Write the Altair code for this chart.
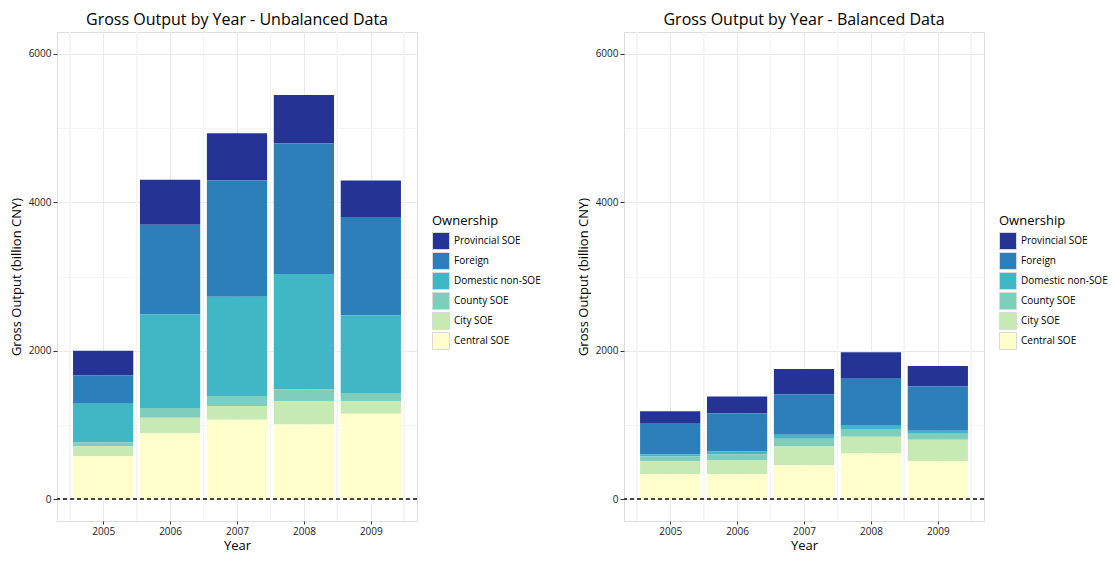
import altair as alt
import pandas as pd

years = [2005, 2006, 2007, 2008, 2009]
ownership = ["Provincial SOE", "Foreign", "Domestic non-SOE", "County SOE", "City SOE", "Central SOE"]
colors = ["#253494", "#2c7fb8", "#41b6c4", "#7fcdbb", "#c7e9b4", "#ffffcc"]

# Unbalanced data (billion CNY)
unb_provincial = [330, 609, 636, 649, 490]
unb_foreign = [372, 1206, 1563, 1763, 1325]
unb_domestic = [530, 1259, 1339, 1550, 1047]
unb_county = [53, 132, 132, 159, 106]
unb_city = [132, 212, 186, 318, 172]
unb_central = [583, 888, 1073, 1007, 1153]

# Balanced data (billion CNY)
bal_provincial = [159, 225, 344, 357, 278]
bal_foreign = [424, 516, 543, 623, 596]
bal_domestic = [27, 40, 53, 53, 40]
bal_county = [66, 80, 106, 106, 79]
bal_city = [172, 185, 252, 225, 292]
bal_central = [340, 340, 459, 618, 512]

unbalanced = [unb_provincial, unb_foreign, unb_domestic, unb_county, unb_city, unb_central]
balanced = [bal_provincial, bal_foreign, bal_domestic, bal_county, bal_city, bal_central]

FONT = "Open Sans"
X_DOMAIN = [2004.31, 2009.69]
Y_DOMAIN = [-291, 6294]


def make_df(series):
    rows = []
    n = len(ownership)
    for i, (own, vals) in enumerate(zip(ownership, series)):
        for y, v in zip(years, vals):
            rows.append({"year": y, "ownership": own, "value": v, "order": n - 1 - i})
    return pd.DataFrame(rows)


def make_xaxis():
    return alt.Axis(
        values=years,
        format="d",
        labelOverlap=False,
        labelFlush=False,
        gridColor="#e9e9e9",
        tickColor="#333333",
        domain=False,
        tickSize=3,
        labelPadding=2,
        labelFontSize=10,
        labelColor="#222222",
        titleFontSize=13,
        titleFontWeight="normal",
        titleColor="#000000",
        titlePadding=3,
        labelFont=FONT,
        titleFont=FONT,
    )


def panel(series, title):
    df = make_df(series)
    xscale = alt.Scale(domain=X_DOMAIN, nice=False, zero=False)
    yscale = alt.Scale(domain=Y_DOMAIN, nice=False, zero=False)
    yaxis = alt.Axis(
        values=[0, 1000, 2000, 3000, 4000, 5000, 6000],
        format="d",
        labelExpr="datum.value % 2000 === 0 ? datum.label : ''",
        labelOverlap=False,
        gridColor={"condition": {"test": "datum.value % 2000 === 0", "value": "#e9e9e9"}, "value": "#f4f4f4"},
        tickColor={"condition": {"test": "datum.value % 2000 === 0", "value": "#333333"}, "value": "transparent"},
        domain=False,
        tickSize=4,
        labelPadding=2,
        labelFontSize=10,
        labelColor="#222222",
        titleFontSize=13,
        titleFontWeight="normal",
        titleColor="#000000",
        titlePadding=5,
        labelFont=FONT,
        titleFont=FONT,
    )
    base = alt.Chart(df)
    minor_lo = (
        base.transform_calculate(xm="datum.year - 0.5")
        .mark_rule(color="#f4f4f4", strokeWidth=1)
        .encode(x=alt.X("xm:Q", scale=xscale, axis=make_xaxis(), title="Year"))
    )
    minor_hi = (
        base.transform_calculate(xm="datum.year + 0.5")
        .mark_rule(color="#f4f4f4", strokeWidth=1)
        .encode(x=alt.X("xm:Q", scale=xscale, axis=make_xaxis(), title="Year"))
    )
    bars = (
        base.transform_stack(
            stack="value",
            groupby=["year"],
            as_=["v0", "v1"],
            sort=[alt.SortField("order", order="ascending")],
        )
        .transform_calculate(x0="datum.year - 0.45", x1="datum.year + 0.45")
        .mark_bar(strokeWidth=0)
        .encode(
            x=alt.X("x0:Q", scale=xscale, axis=make_xaxis(), title="Year"),
            x2="x1:Q",
            y=alt.Y("v0:Q", scale=yscale, axis=yaxis, title="Gross Output (billion CNY)"),
            y2="v1:Q",
            color=alt.Color(
                "ownership:N",
                scale=alt.Scale(domain=ownership, range=colors),
                legend=alt.Legend(
                    title="Ownership",
                    orient="none",
                    legendX=375,
                    legendY=183,
                    symbolType="square",
                    symbolSize=289,
                    symbolStrokeColor="#d9d9d9",
                    symbolStrokeWidth=1,
                    symbolOpacity=1,
                    labelFontSize=10,
                    labelFont=FONT,
                    labelColor="#000000",
                    titleFontSize=13,
                    titleFont=FONT,
                    titleFontWeight="normal",
                    titleColor="#000000",
                    rowPadding=-2,
                    labelOffset=4,
                    titlePadding=4,
                ),
            ),
        )
    )
    zero = (
        base.mark_rule(strokeDash=[4, 3], color="#444444", strokeWidth=1.3)
        .encode(y=alt.datum(0))
    )
    return alt.layer(minor_lo, minor_hi, bars, zero).properties(
        width=360,
        height=489,
        title=alt.TitleParams(
            title,
            fontSize=16,
            fontWeight="normal",
            anchor="middle",
            frame="group",
            offset=4,
            color="#000000",
            font=FONT,
        ),
    )


left = panel(unbalanced, "Gross Output by Year - Unbalanced Data")
right = panel(balanced, "Gross Output by Year - Balanced Data")

chart = (
    alt.hconcat(left, right, spacing=34)
    .resolve_legend(color="independent")
    .properties(padding={"left": 1, "top": 3, "right": 0, "bottom": 0})
    .configure_view(stroke="#7f7f7f", strokeWidth=1)
    .configure(font=FONT)
)

chart.save("out.html", embed_options={"renderer": "svg", "actions": False})
